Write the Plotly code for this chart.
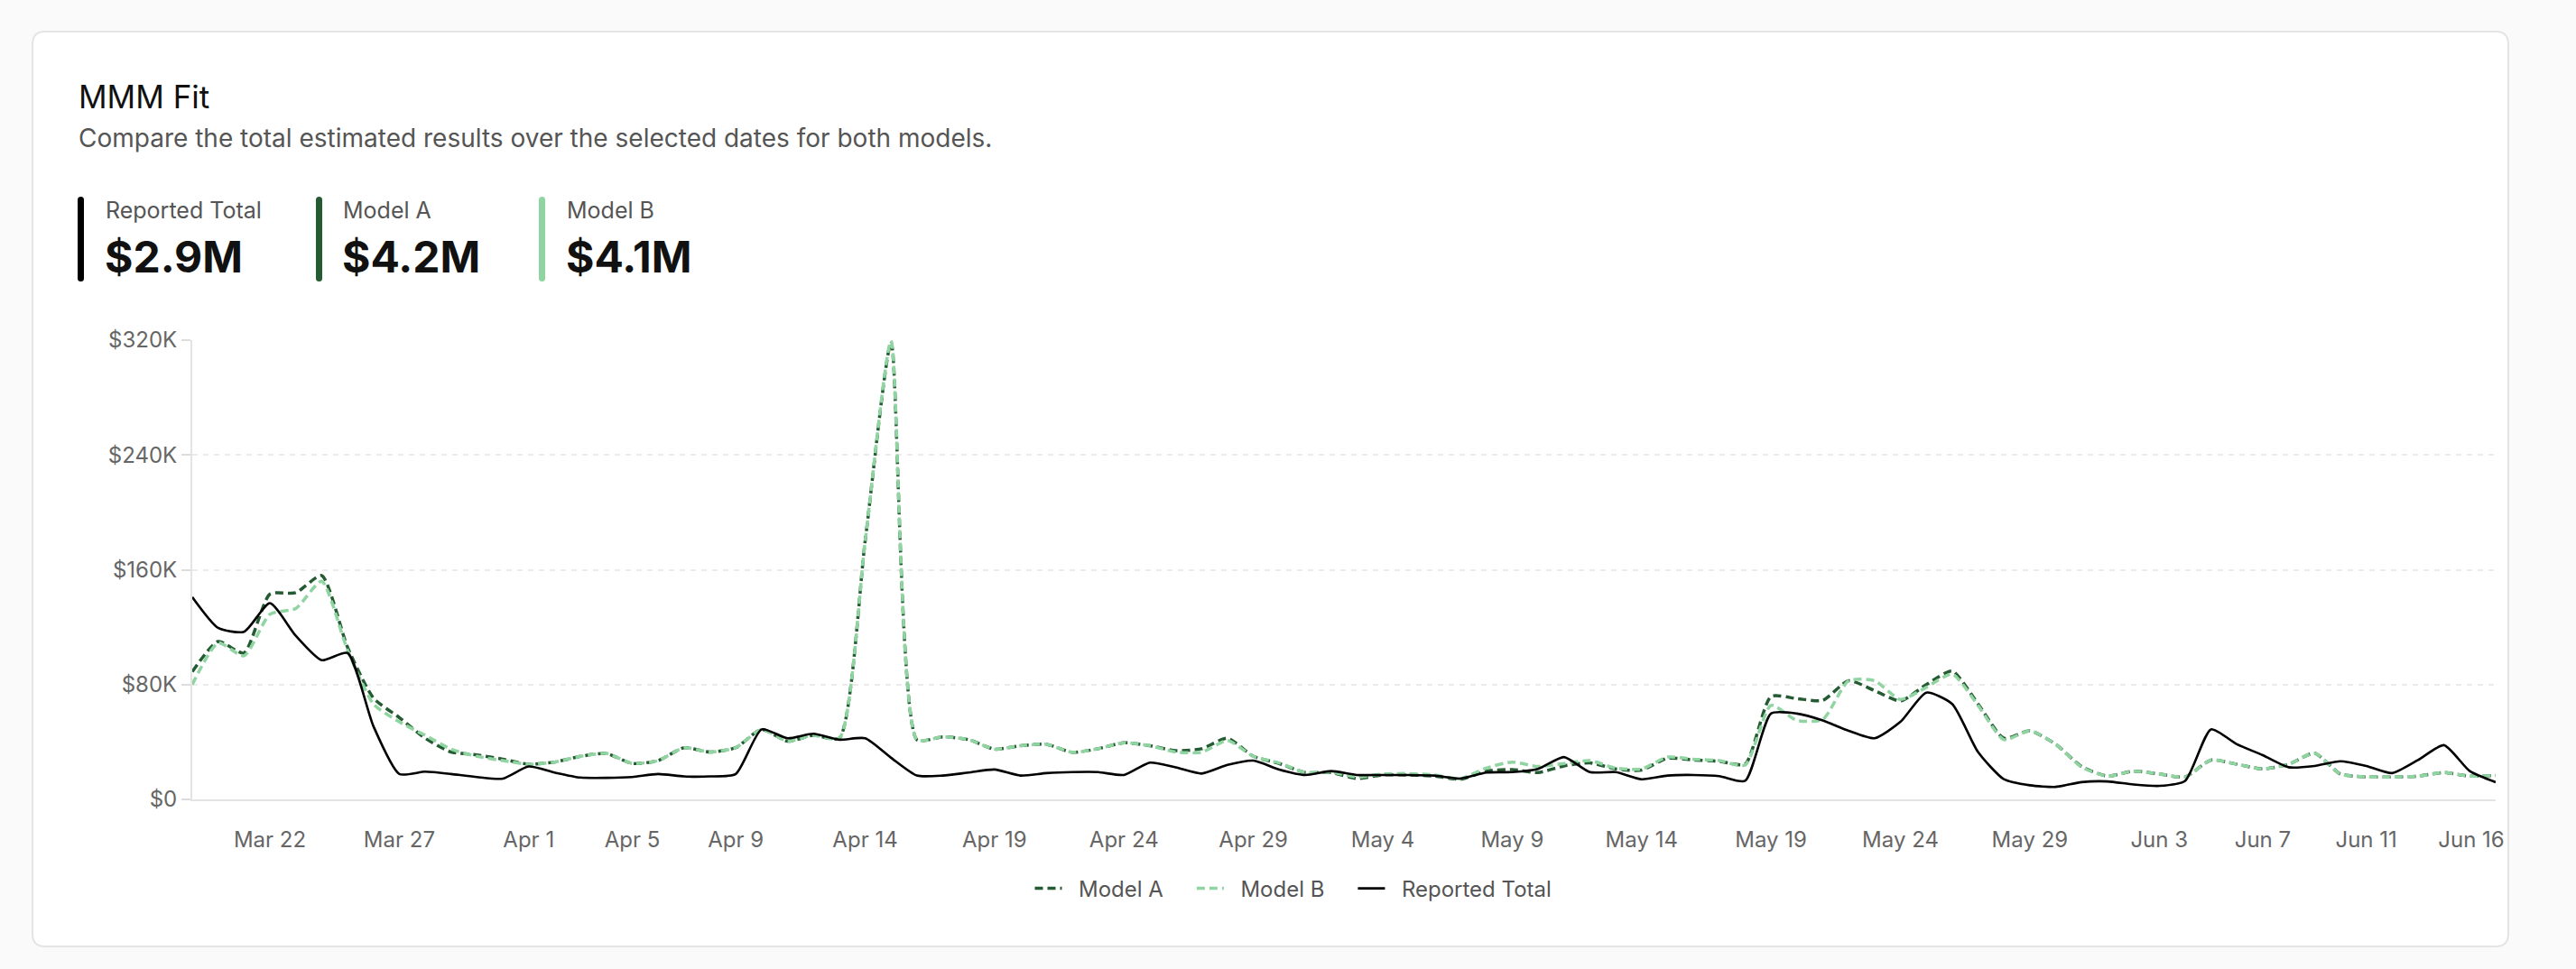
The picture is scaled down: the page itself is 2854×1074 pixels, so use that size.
import plotly.graph_objects as go
import pandas as pd

# ---------------- data ----------------
dates = pd.date_range("2025-03-19", "2025-06-16", freq="D")

reported_total = [
    141, 119.5, 116.8, 136.7, 114, 97, 102, 51, 17.7, 19.3,
    17.7, 15.6, 14.5, 22.9, 18.7, 15.2, 15, 15.6, 17.7, 16,
    16, 17.7, 48.8, 42.6, 45.7, 41.6, 42.6, 29, 16.6, 16.6,
    18.7, 20.8, 16.6, 18.3, 19, 19, 17, 25.6, 22.3, 18,
    24, 27, 20.8, 17, 19.7, 17, 17, 17, 16.6, 14.5,
    18.7, 19, 21.2, 29.5, 19, 19, 14, 16.6, 17, 16.2,
    12.9, 59.8, 59.8, 55, 47.8, 42.6, 54, 74.4, 66.5, 33,
    14, 9.8, 8.7, 12, 12.5, 10.4, 9.4, 12.9, 48.8, 38.4,
    30.8, 22.4, 23.3, 26.6, 23.3, 18.3, 27.4, 37.8, 19.7, 12,
]

model_a = [
    89, 110, 102, 143, 144, 156, 106, 70.6, 57, 42.6,
    33, 31, 28, 24.5, 26, 30, 32, 25, 27, 36,
    33, 36, 48.8, 40.5, 44.7, 42.6, 180, 318, 41.6, 43.6,
    41.6, 35, 37.4, 38.4, 32.8, 35.3, 39.5, 37.4, 34, 35.3,
    42.6, 30, 25, 18.7, 18.7, 14.5, 17, 17, 16.2, 14,
    19.7, 20.8, 18.7, 23.3, 25.4, 21.2, 20.4, 28.7, 27.4, 26.6,
    24.5, 71.7, 70.2, 69, 82.7, 75.8, 68.6, 80, 89.4, 66.5,
    42.6, 47.8, 38.4, 22.9, 16.2, 19.7, 17.7, 15.6, 27.4, 24.5,
    21.2, 24.5, 32.2, 17.7, 15.6, 15.6, 16.2, 18.7, 16.2, 16.6,
]

model_b = [
    80, 109, 100, 129, 133, 152, 104, 66.5, 54, 44.7,
    35, 30, 27, 24.5, 26, 30, 32, 25, 27, 36,
    33, 36, 48.8, 40.5, 44.7, 42.6, 180, 319.5, 41.6, 43.6,
    41.6, 35, 37.4, 38.4, 32.8, 35.3, 39.5, 37.4, 33, 32.8,
    41, 30, 25.4, 18.7, 19, 15.6, 17.7, 18, 17, 14.5,
    21.8, 26, 22.9, 25, 27, 21.8, 21.2, 29.5, 28, 27,
    23.9, 65.5, 55, 55.7, 82.7, 82.7, 69.6, 78, 87.3, 65.5,
    41.6, 47.8, 38.4, 22.5, 16.2, 19.7, 17.7, 15.6, 27.4, 24.5,
    21.2, 24.5, 32.2, 17.7, 15.6, 15.6, 16.2, 18.7, 16.2, 16.6,
]

x_tick_dates = ["2025-03-22", "2025-03-27", "2025-04-01", "2025-04-05", "2025-04-09",
                "2025-04-14", "2025-04-19", "2025-04-24", "2025-04-29", "2025-05-04",
                "2025-05-09", "2025-05-14", "2025-05-19", "2025-05-24", "2025-05-29",
                "2025-06-03", "2025-06-07", "2025-06-11", "2025-06-16"]
x_tick_labels = ["Mar 22", "Mar 27", "Apr 1", "Apr 5", "Apr 9", "Apr 14", "Apr 19",
                 "Apr 24", "Apr 29", "May 4", "May 9", "May 14", "May 19", "May 24",
                 "May 29", "Jun 3", "Jun 7", "Jun 11", "Jun 16" + "\u00a0" * 8]
y_tick_vals = [0, 80000, 160000, 240000, 320000]
y_tick_labels = ["$0", "$80K", "$160K", "$240K", "$320K"]

series_names = ["Model A", "Model B", "Reported Total"]
kpi_labels = ["Reported Total", "Model A", "Model B"]
kpi_values = ["$2.9M", "$4.2M", "$4.1M"]

title_text = "MMM Fit"
subtitle_text = "Compare the total estimated results over the selected dates for both models."

# ---------------- style ----------------
W, H = 2854, 1074
L, R, T, B = 213, 2765, 377, 886      # plot area in pixels
C_DARK = "#245b33"
C_LIGHT = "#8fd4a1"
C_BLACK = "#000000"
FONT = "Inter"
NB = "\u00a0"


def px(X):
    return (X - L) / (R - L)


def py(Y):
    return (B - Y) / (B - T)


def rrect(x0, y0, x1, y1, r):
    # rounded rectangle path in paper coordinates from pixel box
    pts = []
    pts.append(f"M {px(x0 + r)},{py(y0)}")
    pts.append(f"L {px(x1 - r)},{py(y0)}")
    pts.append(f"Q {px(x1)},{py(y0)} {px(x1)},{py(y0 + r)}")
    pts.append(f"L {px(x1)},{py(y1 - r)}")
    pts.append(f"Q {px(x1)},{py(y1)} {px(x1 - r)},{py(y1)}")
    pts.append(f"L {px(x0 + r)},{py(y1)}")
    pts.append(f"Q {px(x0)},{py(y1)} {px(x0)},{py(y1 - r)}")
    pts.append(f"L {px(x0)},{py(y0 + r)}")
    pts.append(f"Q {px(x0)},{py(y0)} {px(x0 + r)},{py(y0)}")
    pts.append("Z")
    return " ".join(pts)


legend_names = [NB * 2 + series_names[0] + NB * 4,
                NB * 2 + series_names[1] + NB * 4,
                NB * 2 + series_names[2]]

fig = go.Figure()

fig.add_trace(go.Scatter(
    x=dates, y=[v * 1000 for v in model_a], name=legend_names[0], mode="lines",
    line=dict(color=C_DARK, width=3.5, dash="9px,5px", shape="spline", smoothing=0.6),
))
fig.add_trace(go.Scatter(
    x=dates, y=[v * 1000 for v in model_b], name=legend_names[1], mode="lines",
    line=dict(color=C_LIGHT, width=3.5, dash="9px,5px", shape="spline", smoothing=0.6),
))
fig.add_trace(go.Scatter(
    x=dates, y=[v * 1000 for v in reported_total], name=legend_names[2], mode="lines",
    line=dict(color=C_BLACK, width=2.6, shape="spline", smoothing=0.6),
))

shapes = [
    dict(type="path", xref="paper", yref="paper", layer="below",
         path=rrect(36, 35, 2779, 1049, 14),
         fillcolor="#ffffff", line=dict(color="#e4e4e4", width=2)),
]
bar_x = [86, 350, 597]
bar_colors = [C_BLACK, C_DARK, C_LIGHT]
for bx, bc in zip(bar_x, bar_colors):
    shapes.append(dict(type="path", xref="paper", yref="paper", layer="above",
                       path=rrect(bx, 218, bx + 7, 312, 3.5),
                       fillcolor=bc, line=dict(width=0)))

annotations = [
    dict(text=title_text, x=px(85), y=py(107), xref="paper", yref="paper",
         xanchor="left", yanchor="middle", showarrow=False,
         font=dict(family=FONT, size=35, color="#111111")),
    dict(text=subtitle_text, x=px(85), y=py(153), xref="paper", yref="paper",
         xanchor="left", yanchor="middle", showarrow=False,
         font=dict(family=FONT, size=28, color="#555555")),
]
label_x = [115, 378, 626]
for lx, lab, val in zip(label_x, kpi_labels, kpi_values):
    annotations.append(dict(text=lab, x=px(lx), y=py(233), xref="paper", yref="paper",
                            xanchor="left", yanchor="middle", showarrow=False,
                            font=dict(family=FONT, size=25, color="#555555")))
    annotations.append(dict(text=f"<b>{val}</b>", x=px(lx - 1), y=py(284), xref="paper", yref="paper",
                            xanchor="left", yanchor="middle", showarrow=False,
                            font=dict(family=FONT, size=48, color="#111111")))

fig.update_layout(
    width=W, height=H,
    margin=dict(l=L, r=W - R, t=T, b=H - B, pad=0),
    paper_bgcolor="#fafafa",
    plot_bgcolor="rgba(0,0,0,0)",
    font=dict(family=FONT, size=24, color="#666666"),
    shapes=shapes,
    annotations=annotations,
    showlegend=True,
    legend=dict(orientation="h", x=px(1433), y=py(985), xanchor="center", yanchor="middle",
                font=dict(family=FONT, size=24, color="#555555"),
                bgcolor="rgba(0,0,0,0)"),
    hovermode=False,
)

fig.update_xaxes(
    type="date", range=[dates[0], dates[-1]],
    tickvals=x_tick_dates, ticktext=x_tick_labels,
    showgrid=False, zeroline=False,
    showline=True, linecolor="#e3e3e3", linewidth=2,
    ticks="outside", ticklen=22, tickcolor="rgba(0,0,0,0)",
    tickfont=dict(family=FONT, size=24, color="#666666"),
)
fig.update_yaxes(
    range=[0, 320000], tickvals=y_tick_vals, ticktext=y_tick_labels,
    showgrid=True, gridcolor="#ebebeb", gridwidth=1.5, griddash="6px,6px",
    zeroline=False, showline=True, linecolor="#e3e3e3", linewidth=2,
    ticks="outside", ticklen=10, tickcolor="#dddddd", tickwidth=2,
    tickfont=dict(family=FONT, size=24, color="#666666"),
)

fig.write_html("out.html", config={"displayModeBar": False},
               post_script="document.body.style.margin='0';document.body.style.overflow='hidden';")
